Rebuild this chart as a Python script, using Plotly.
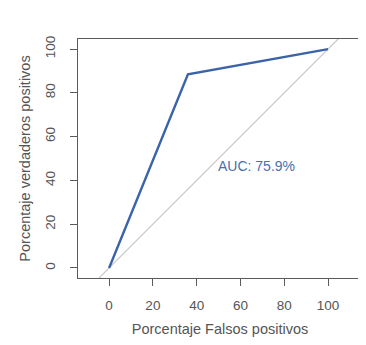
import plotly.graph_objects as go

fpr = [0, 36, 100]
tpr = [0, 88.5, 100]
diag = [-20, 120]
tick_vals = [0, 20, 40, 60, 80, 100]
auc_label = "AUC: 75.9%"
auc_pos = (67.5, 46.5)

fig = go.Figure()
fig.add_trace(go.Scatter(x=diag, y=diag, mode="lines",
                         line=dict(color="#c8c8c8", width=1.2), hoverinfo="skip"))
fig.add_trace(go.Scatter(x=fpr, y=tpr, mode="lines",
                         line=dict(color="#3b63a8", width=2.4)))
fig.add_annotation(x=auc_pos[0], y=auc_pos[1], text=auc_label, showarrow=False,
                   font=dict(color="#4a6fae", size=14, family="Liberation Sans"))

axis_common = dict(showgrid=False, zeroline=False, showline=True, mirror=True,
                   linecolor="#5a5a5a", linewidth=1, ticks="outside", ticklen=7,
                   tickcolor="#5a5a5a", tickvals=tick_vals, automargin=False,
                   tickfont=dict(size=13.5, color="#555555", family="Liberation Sans"),
                   title_font=dict(size=14.5, color="#555555", family="Liberation Sans"))

# page body has an 8px default margin, so the figure is shrunk by 8px
fig.update_layout(
    width=358, height=337,
    margin=dict(l=70, r=4, t=31, b=67),
    paper_bgcolor="white", plot_bgcolor="white",
    showlegend=False,
    xaxis=dict(range=[-14.2, 115.5], title_text="Porcentaje Falsos positivos",
               ticklabelstandoff=8, title_standoff=11, **axis_common),
    yaxis=dict(range=[-4.6, 104.6], title_text="Porcentaje verdaderos positivos",
               tickangle=-90, ticklabelstandoff=10, title_standoff=8, **axis_common),
)
fig.write_html("out.html")
